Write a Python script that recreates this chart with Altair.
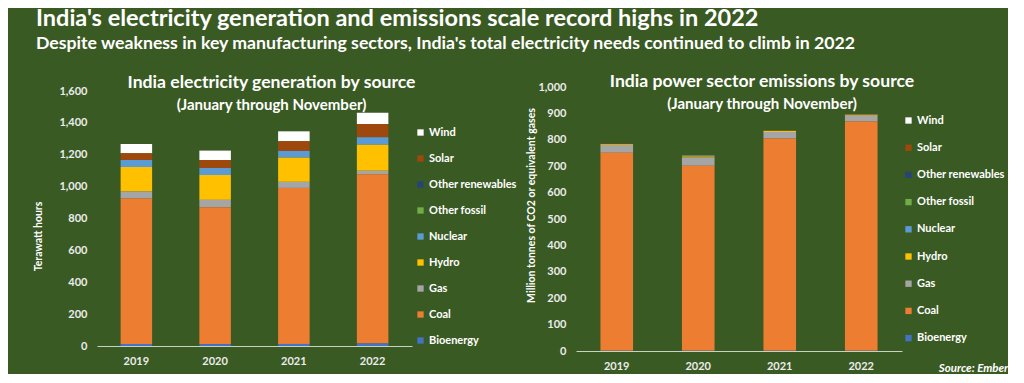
import altair as alt
import pandas as pd

years = ["2019", "2020", "2021", "2022"]
sources = ["Wind", "Solar", "Other renewables", "Other fossil", "Nuclear",
           "Hydro", "Gas", "Coal", "Bioenergy"]
colors = ["#FFFFFF", "#9E480E", "#264478", "#70AD47", "#5B9BD5",
          "#FFC000", "#A5A5A5", "#ED7D31", "#4472C4"]

# Generation (TWh), January through November
gen_wind = [58, 59, 62, 71]
gen_solar = [43, 50, 61, 83]
gen_other_renewables = [0, 0, 0, 0]
gen_other_fossil = [0, 0, 0, 0]
gen_nuclear = [44, 44, 42, 47]
gen_hydro = [154, 156, 152, 163]
gen_gas = [44, 46, 38, 22]
gen_coal = [913, 859, 979, 1063]
gen_bioenergy = [12, 12, 13, 15]

# Emissions (million tonnes CO2e), January through November
em_wind = [0.5, 0.5, 0.5, 0.5]
em_solar = [1, 1, 1, 2]
em_other_renewables = [0, 0, 0, 0]
em_other_fossil = [0, 0, 0, 0]
em_nuclear = [1, 1, 1, 1]
em_hydro = [3, 4, 3, 3]
em_gas = [29, 31, 25, 22]
em_coal = [750, 701, 804, 868]
em_bioenergy = [1, 1, 1, 1]

gen_series = [gen_wind, gen_solar, gen_other_renewables, gen_other_fossil, gen_nuclear,
              gen_hydro, gen_gas, gen_coal, gen_bioenergy]
em_series = [em_wind, em_solar, em_other_renewables, em_other_fossil, em_nuclear,
             em_hydro, em_gas, em_coal, em_bioenergy]


def long_df(series):
    rows = []
    for i, s in enumerate(sources):
        for j, y in enumerate(years):
            rows.append({"year": y, "source": s, "value": series[i][j],
                         "rank": len(sources) - 1 - i})
    return pd.DataFrame(rows)


FONT = "Lato"
TXT = "#FFFFFF"
LBL = "#ECECEC"
DOMAIN = "#C9D1BF"
BG = "#3A5A24"


def panel(df, w, h, ydomain, yvals, yrange, ytitle, ytx, yty, title, subtitle, dx, offset,
          legx, legy, rowpad, xtitle=None, xtx=0, xty=0):
    x_axis_kwargs = dict(labelAngle=0, labelFontSize=11, labelFontWeight="bold", labelColor=LBL,
                         labelPadding=9, labelFont=FONT, domainColor=DOMAIN, domainWidth=1,
                         ticks=False, grid=False)
    if xtitle:
        x_axis_kwargs.update(title=xtitle, titleX=xtx, titleY=xty, titleFontStyle="italic",
                             titleFontWeight="bold", titleFontSize=11.5, titleColor=TXT,
                             titleFont=FONT, titleBaseline="middle", titleAlign="center")
    else:
        x_axis_kwargs.update(title=None)
    yscale = dict(domain=ydomain, nice=False)
    if yrange:
        yscale["range"] = yrange
    return alt.Chart(df).mark_bar().encode(
        x=alt.X("year:N", scale=alt.Scale(paddingInner=0.6, paddingOuter=0.3),
                axis=alt.Axis(**x_axis_kwargs)),
        y=alt.Y("value:Q", stack="zero", scale=alt.Scale(**yscale),
                axis=alt.Axis(values=yvals, format=",d", labelFontSize=11, labelFontWeight="bold",
                              labelColor=LBL, labelFont=FONT, labelPadding=10, ticks=False,
                              domain=False, grid=False, title=ytitle, titleFont=FONT,
                              titleFontSize=10.5, titleFontWeight="bold", titleColor=TXT,
                              titleAngle=270, titleX=ytx, titleY=yty, titleAlign="center",
                              titleBaseline="middle")),
        color=alt.Color("source:N", scale=alt.Scale(domain=sources, range=colors),
                        legend=alt.Legend(orient="none", legendX=legx, legendY=legy, title=None,
                                          symbolType="square", symbolSize=40, symbolStrokeWidth=0,
                                          symbolOpacity=1, labelFontSize=11, labelFontWeight="bold",
                                          labelColor=TXT, labelFont=FONT, rowPadding=rowpad,
                                          labelOffset=3)),
        order=alt.Order("rank:Q", sort="ascending"),
    ).properties(
        width=w, height=h,
        title=alt.TitleParams(text=title, subtitle=subtitle, anchor="middle", dx=dx, offset=offset,
                              font=FONT, fontSize=17.6, fontWeight="bold", color=TXT,
                              subtitleFont=FONT, subtitleFontSize=15, subtitleFontWeight="bold",
                              subtitleColor=TXT, subtitlePadding=6),
    )


left = panel(long_df(gen_series), 315, 259, [0, 1600], list(range(0, 1601, 200)), [259, 4],
             "Terawatt hours", -59, 149,
             "India electricity generation by source", "(January through November)", 17, -28,
             318, 40, 14)
right = panel(long_df(em_series), 326, 264, [0, 1000], list(range(0, 1001, 100)), None,
              "Million tonnes of CO2 or equivalent gases", -45, 118,
              "India power sector emissions by source", "(January through November)", 23, -31,
              327, 28, 15.2, xtitle="Source: Ember", xtx=397, xty=17)

chart = alt.hconcat(left, right, spacing=8).resolve_scale(
    color="independent", y="independent"
).resolve_legend(color="independent").properties(
    title=alt.TitleParams(
        text="India's electricity generation and emissions scale record highs in 2022",
        subtitle="Despite weakness in key manufacturing sectors, India's total electricity needs continued to climb in 2022",
        anchor="start", font=FONT, fontSize=23.5, fontWeight="bold", color=TXT,
        subtitleFont=FONT, subtitleFontSize=17.7, subtitleFontWeight="bold", subtitleColor=TXT,
        subtitlePadding=4, offset=21, dx=3),
    padding={"left": 25, "top": -1, "right": 0, "bottom": 0},
).configure(background=BG).configure_view(stroke=None)

chart.save("out.html", embed_options={"renderer": "svg", "actions": False})
